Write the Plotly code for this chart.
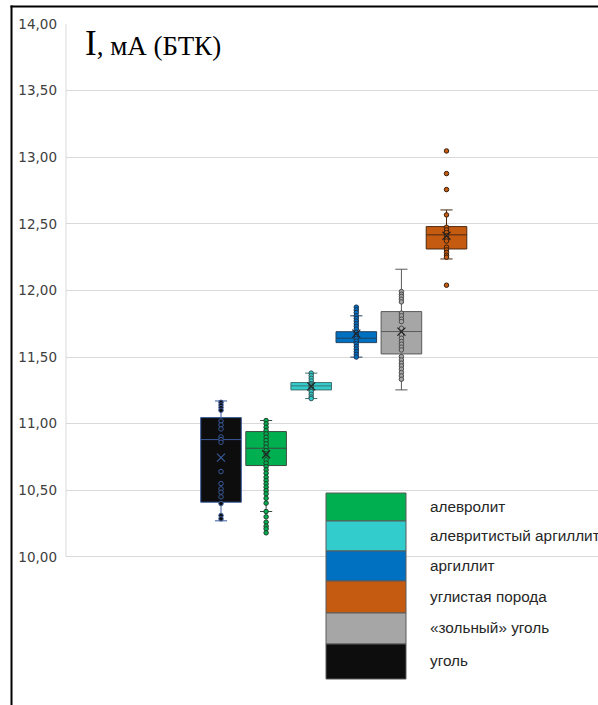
import plotly.graph_objects as go

# ---- data ----
categories = ["уголь", "алевролит", "алевритистый аргиллит", "аргиллит", "«зольный» уголь", "углистая порода"]
positions = [0, 1, 2, 3, 4, 5]
q1 = [10.41, 10.685, 11.253, 11.608, 11.523, 12.311]
median = [10.88, 10.815, 11.283, 11.641, 11.691, 12.417]
q3 = [11.045, 10.94, 11.308, 11.69, 11.841, 12.479]
lowerfence = [10.27, 10.34, 11.188, 11.499, 11.253, 12.236]
upperfence = [11.17, 11.023, 11.379, 11.809, 12.159, 12.604]
means = [10.745, 10.77, 11.28, 11.675, 11.69, 12.41]

pts_coal = [11.16, 11.14, 11.12, 11.10, 11.02, 10.99, 10.96, 10.90, 10.88, 10.86,
            10.64, 10.55, 10.51, 10.485, 10.45, 10.40, 10.31, 10.285]
pts_siltstone = [11.023, 10.998, 10.973, 10.948, 10.923, 10.898, 10.873, 10.848, 10.823,
                 10.798, 10.773, 10.728, 10.703, 10.678, 10.653, 10.628, 10.598, 10.573,
                 10.548, 10.523, 10.498, 10.473, 10.44, 10.403, 10.34, 10.30, 10.26,
                 10.23, 10.21, 10.18]
pts_silty_argillite = [11.379, 11.36, 11.34, 11.32, 11.30, 11.29, 11.28, 11.27, 11.26,
                       11.25, 11.24, 11.22, 11.20, 11.188]
pts_argillite = [11.874, 11.854, 11.834, 11.809, 11.79, 11.77, 11.75, 11.73, 11.71, 11.685,
                 11.665, 11.64, 11.62, 11.60, 11.58, 11.56, 11.54, 11.52, 11.50]
pts_ash_coal = [11.991, 11.971, 11.954, 11.934, 11.914, 11.829, 11.809, 11.784, 11.766,
                11.716, 11.666, 11.641, 11.616, 11.596, 11.574, 11.553, 11.503, 11.478,
                11.454, 11.433, 11.409, 11.383, 11.358, 11.333]
pts_carb = [13.047, 12.877, 12.757, 12.567, 12.474, 12.454, 12.434, 12.411, 12.391, 12.371,
            12.324, 12.304, 12.284, 12.264, 12.249, 12.039]
points = [pts_coal, pts_siltstone, pts_silty_argillite, pts_argillite, pts_ash_coal, pts_carb]

y_ticks = [10.0, 10.5, 11.0, 11.5, 12.0, 12.5, 13.0, 13.5, 14.0]
y_tick_labels = ["10,00", "10,50", "11,00", "11,50", "12,00", "12,50", "13,00", "13,50", "14,00"]

legend_labels = ["алевролит", "алевритистый аргиллит", "аргиллит", "углистая порода", "«зольный» уголь", "уголь"]
legend_colors = ["#00B050", "#33CCCC", "#0070C0", "#C55A11", "#A6A6A6", "#0D0D0D"]

# ---- styles ----
fill_colors = ["#0D0D0D", "#00B050", "#33CCCC", "#0070C0", "#A6A6A6", "#C55A11"]
line_colors = ["#3A5A9A", "#3A4A40", "#3F6F6F", "#23405F", "#595959", "#4A2A12"]
marker_lines = ["#3A5A9A", "#1F3D2A", "#2F5555", "#1A3050", "#4A4A4A", "#3A200C"]

W, H = 598, 705
ML, MR, MT, MB = 66, 0, 24, 5
PW, PH = W - ML - MR, H - MT - MB


def px_x(px):
    return (px - ML) / PW


def px_y(py):
    return (H - MB - py) / PH


fig = go.Figure()

for i in range(6):
    fig.add_trace(go.Box(
        x=[positions[i]], q1=[q1[i]], median=[median[i]], q3=[q3[i]],
        lowerfence=[lowerfence[i]], upperfence=[upperfence[i]],
        width=0.9, whiskerwidth=0.3, boxpoints=False,
        fillcolor=fill_colors[i], line=dict(color=line_colors[i], width=1),
        name=categories[i], showlegend=False, hoverinfo="skip",
    ))

for i in range(6):
    fig.add_trace(go.Scatter(
        x=[positions[i]] * len(points[i]), y=points[i], mode="markers",
        marker=dict(size=4.5, color=fill_colors[i], line=dict(color=marker_lines[i], width=1)),
        showlegend=False, hoverinfo="skip",
    ))

fig.add_trace(go.Scatter(
    x=positions, y=means, mode="markers",
    marker=dict(symbol="x-thin-open", size=8,
                line=dict(color=[line_colors[0]] + ["#222222"] * 5, width=1.2),
                color=[line_colors[0]] + ["#222222"] * 5),
    showlegend=False, hoverinfo="skip",
))

shapes = []
# light vertical axis line
shapes.append(dict(type="line", xref="paper", yref="y", x0=0, x1=0, y0=10, y1=14,
                   line=dict(color="#D9D9D9", width=1)))
# outer frame (cropped)
shapes.append(dict(type="line", xref="paper", yref="paper",
                   x0=px_x(11.5), x1=px_x(11.5), y0=px_y(712), y1=px_y(5.5),
                   line=dict(color="black", width=2)))
shapes.append(dict(type="line", xref="paper", yref="paper",
                   x0=px_x(10.5), x1=px_x(610), y0=px_y(6.5), y1=px_y(6.5),
                   line=dict(color="black", width=2)))

# custom legend
row_edges = [493, 521, 551, 581, 613, 644, 679]
annotations = []
for k in range(6):
    shapes.append(dict(type="rect", xref="paper", yref="paper",
                       x0=px_x(326), x1=px_x(406), y0=px_y(row_edges[k + 1]), y1=px_y(row_edges[k]),
                       fillcolor=legend_colors[k], line=dict(color="#5A5A5A", width=1)))
    annotations.append(dict(xref="paper", yref="paper", x=px_x(428),
                            y=px_y((row_edges[k] + row_edges[k + 1]) / 2 - 1),
                            xanchor="left", yanchor="middle", showarrow=False,
                            text=legend_labels[k],
                            font=dict(family="Liberation Sans", size=15.3, color="#262626")))

annotations.append(dict(xref="paper", yref="paper", x=px_x(83), y=px_y(22),
                        xanchor="left", yanchor="top", showarrow=False,
                        text="<span style='font-size:35px'>I</span>, мА (БТК)",
                        font=dict(family="Liberation Serif", size=27, color="black")))

fig.update_layout(
    width=W, height=H,
    margin=dict(l=ML, r=MR, t=MT, b=MB, pad=0),
    paper_bgcolor="white", plot_bgcolor="white",
    shapes=shapes, annotations=annotations,
    xaxis=dict(range=[-3.437, 8.359], showgrid=False, zeroline=False, showticklabels=False,
               showline=False, ticks=""),
    yaxis=dict(range=[14 - PH / 133.2, 14.0], tickvals=y_ticks, ticktext=y_tick_labels,
               showgrid=True, gridcolor="#D9D9D9", gridwidth=1, zeroline=False, showline=False,
               ticks="", ticklabelstandoff=8,
               tickfont=dict(family="DejaVu Sans", size=13.5, color="#404040")),
)

fig.write_html("out.html", config={"displayModeBar": False},
               post_script="document.body.style.margin='0';document.body.style.overflow='hidden';")
